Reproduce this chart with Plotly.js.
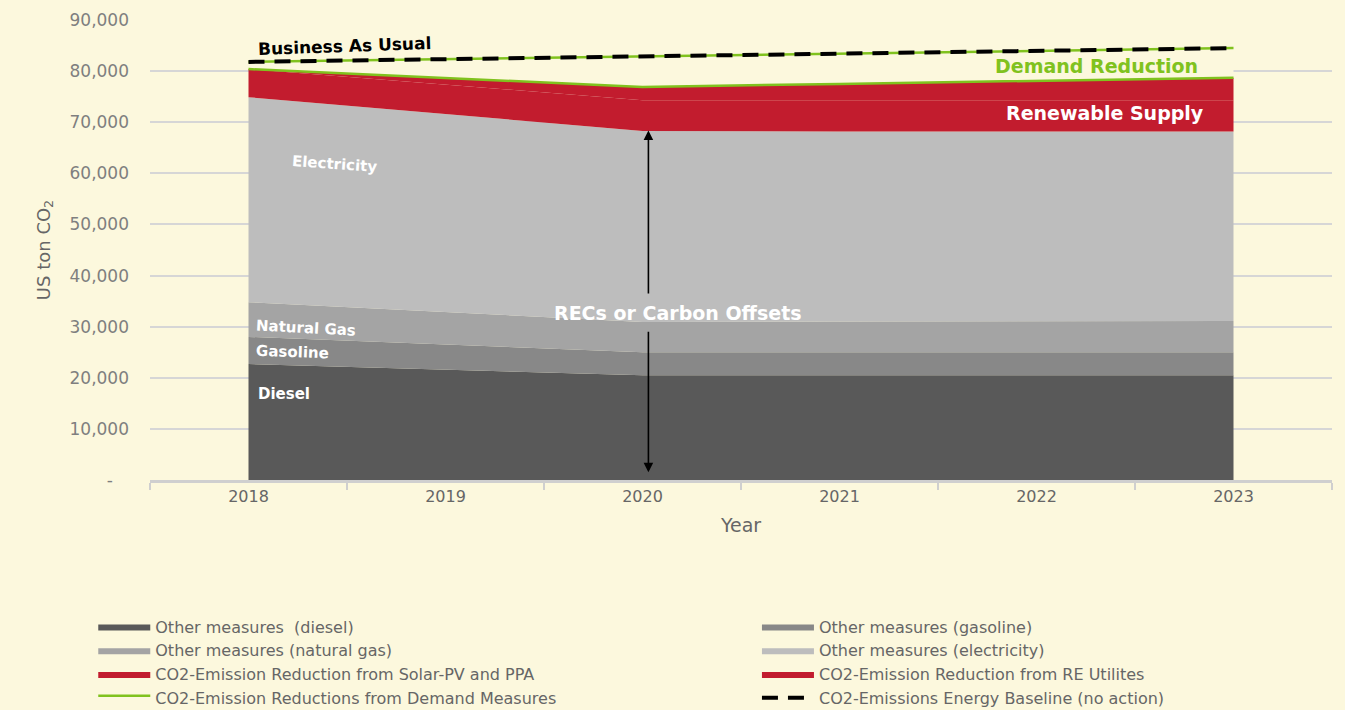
<!DOCTYPE html>
<html>
<head>
<meta charset="utf-8">
<script src="https://cdn.plot.ly/plotly-3.0.1.min.js"></script>
<style>
  html, body { margin: 0; padding: 0; background: #fcf8dd; }
  #chart { width: 1345px; height: 710px; }
</style>
</head>
<body>
<div id="chart"></div>
<script>
// ---- data (US ton CO2) ----
const years = ['2018', '2019', '2020', '2021', '2022', '2023'];
const diesel = [22700, 21600, 20500, 20500, 20500, 20500];
const gasoline = [5300, 4900, 4500, 4500, 4500, 4500];
const naturalGas = [6800, 6350, 5900, 6000, 6100, 6100];
const electricity = [40100, 38750, 37400, 37200, 37100, 37100];
const solarPV = [5500, 5750, 6000, 6100, 6100, 6100];
const reUtilities = [0, 1300, 2600, 3200, 3800, 4400];
const demand = [1400, 3700, 6000, 5900, 5900, 5800];
const baseline = [81800, 82350, 82900, 83400, 84000, 84500];

const yTickVals = [0, 10000, 20000, 30000, 40000, 50000, 60000, 70000, 80000, 90000];
const yTickText = ['-\u00a0\u00a0\u00a0', '10,000', '20,000', '30,000', '40,000', '50,000', '60,000', '70,000', '80,000', '90,000'];

const BG = '#fcf8dd';
const RED = '#c21c2e';
const GREEN = '#80c21e';
const FONT = 'DejaVu Sans';

// top of the red (renewable) stack, derived from the series
const redTop = years.map((_, i) => diesel[i] + gasoline[i] + naturalGas[i] + electricity[i] + solarPV[i] + reUtilities[i]);

function area(name, y, color, legend, extra) {
  return Object.assign({
    type: 'scatter', mode: 'lines', x: years, y: y, name: name,
    stackgroup: 'one', fillcolor: color,
    line: { width: 0, color: color }, legend: legend, hoverinfo: 'skip'
  }, extra || {});
}

const data = [
  area('Other measures\u00a0\u00a0(diesel)', diesel, '#595959', 'legend'),
  area('Other measures (gasoline)', gasoline, '#888888', 'legend2'),
  area('Other measures (natural gas)', naturalGas, '#a4a4a4', 'legend'),
  area('Other measures (electricity)', electricity, '#bdbdbd', 'legend2'),
  area('CO2-Emission Reduction from Solar-PV and PPA', solarPV, RED, 'legend'),
  area('CO2-Emission Reduction from RE Utilites', reUtilities, RED, 'legend2'),
  area('CO2-Emission Reductions from Demand Measures', demand, BG, 'legend',
       { line: { width: 2.5, color: GREEN } }),
  { type: 'scatter', mode: 'lines', x: years, y: redTop, showlegend: false,
    line: { width: 2.5, color: GREEN }, hoverinfo: 'skip' },
  { type: 'scatter', mode: 'lines', x: years, y: baseline, legend: 'legend2',
    name: 'CO2-Emissions Energy Baseline (no action)',
    line: { width: 4, color: '#000000', dash: '16px,10px' }, hoverinfo: 'skip' }
];

const legendFont = { family: FONT, size: 16, color: '#666666' };

const layout = {
  width: 1345, height: 710,
  paper_bgcolor: BG, plot_bgcolor: BG,
  margin: { l: 150, r: 13, t: 20, b: 230, autoexpand: false },
  font: { family: FONT, color: '#666666' },
  showlegend: true,
  xaxis: {
    type: 'category', range: [-0.5, 5.5], tickson: 'boundaries',
    ticks: 'outside', ticklen: 7, tickcolor: '#cfcfcf', tickwidth: 1.5,
    showline: true, linecolor: '#cfcfcf', linewidth: 2.5, showgrid: false,
    tickfont: { family: FONT, size: 16, color: '#666666' },
    title: { text: 'Year', font: { family: FONT, size: 19, color: '#666666' }, standoff: 14 }
  },
  yaxis: {
    range: [0, 90000], tickvals: yTickVals, ticktext: yTickText,
    showgrid: true, gridcolor: '#d6d6d6', gridwidth: 2, zeroline: false,
    showline: false, ticks: '', ticklabelstandoff: 20,
    tickfont: { family: FONT, size: 17, color: '#7f7f7f' },
    title: { text: 'US ton CO<sub>2</sub>', font: { family: FONT, size: 18, color: '#666666' }, standoff: 14 }
  },
  legend: {
    x: -0.048, xanchor: 'left', y: -0.2815, yanchor: 'top',
    orientation: 'v', bgcolor: 'rgba(0,0,0,0)', itemwidth: 52,
    font: legendFont, traceorder: 'normal'
  },
  legend2: {
    x: 0.5135, xanchor: 'left', y: -0.2815, yanchor: 'top',
    orientation: 'v', bgcolor: 'rgba(0,0,0,0)', itemwidth: 52,
    font: legendFont, traceorder: 'normal'
  },
  annotations: [
    { text: '<b>Business As Usual</b>', x: 0.487, y: 84900, xref: 'x', yref: 'y',
      showarrow: false, textangle: -2, font: { family: FONT, size: 17, color: '#000000' } },
    { text: '<b>Demand Reduction</b>', x: 4.305, y: 81000, xref: 'x', yref: 'y',
      showarrow: false, font: { family: FONT, size: 19, color: GREEN } },
    { text: '<b>Renewable Supply</b>', x: 4.35, y: 71800, xref: 'x', yref: 'y',
      showarrow: false, font: { family: FONT, size: 19, color: '#ffffff' } },
    { text: '<b>Electricity</b>', x: 0.437, y: 61800, xref: 'x', yref: 'y',
      showarrow: false, textangle: 4, font: { family: FONT, size: 15, color: '#ffffff' } },
    { text: '<b>Natural Gas</b>', x: 0.29, y: 29700, xref: 'x', yref: 'y',
      showarrow: false, textangle: 3, font: { family: FONT, size: 15, color: '#ffffff' } },
    { text: '<b>Gasoline</b>', x: 0.223, y: 25000, xref: 'x', yref: 'y',
      showarrow: false, textangle: 2, font: { family: FONT, size: 15, color: '#ffffff' } },
    { text: '<b>Diesel</b>', x: 0.178, y: 16800, xref: 'x', yref: 'y',
      showarrow: false, font: { family: FONT, size: 15, color: '#ffffff' } },
    { text: '<b>RECs or Carbon Offsets</b>', x: 2.178, y: 32700, xref: 'x', yref: 'y',
      showarrow: false, font: { family: FONT, size: 19, color: '#ffffff' } },
    { text: '', x: 2.03, y: 68400, xref: 'x', yref: 'y',
      ax: 2.03, ay: 36200, axref: 'x', ayref: 'y',
      showarrow: true, arrowhead: 2, arrowsize: 1.2, arrowwidth: 1.6, arrowcolor: '#000000' },
    { text: '', x: 2.03, y: 1500, xref: 'x', yref: 'y',
      ax: 2.03, ay: 29300, axref: 'x', ayref: 'y',
      showarrow: true, arrowhead: 2, arrowsize: 1.2, arrowwidth: 1.6, arrowcolor: '#000000' }
  ]
};

Plotly.newPlot('chart', data, layout, { displayModeBar: false, staticPlot: true });
</script>
</body>
</html>
